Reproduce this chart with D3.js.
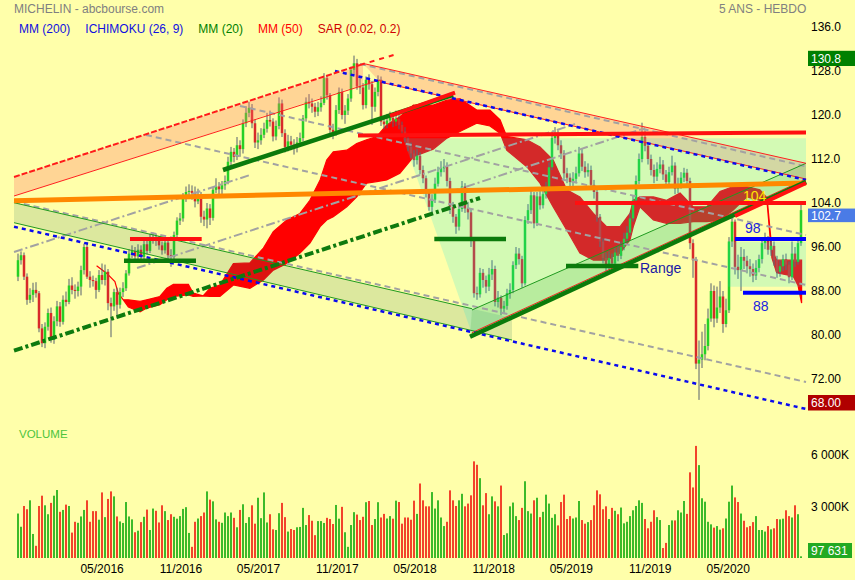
<!DOCTYPE html>
<html><head><meta charset="utf-8">
<script src="https://cdn.jsdelivr.net/npm/d3@7/dist/d3.min.js"></script>
<style>
html,body{margin:0;padding:0;background:#ffffaa;}
svg{display:block;}
</style></head><body>
<svg id="c" width="855" height="580"></svg>
<script>
// ---------------- DATA ----------------
const startDate = new Date(2015, 9, 19); // first weekly bar
const firstOpen = 90.6;
const closes = [
93.6,94.5,90.6,86.4,87.3,88.2,87.6,81.2,78.5,81.5,
84.0,79.1,82.5,85.2,82.4,86.4,86.0,89.0,88.2,88.0,
88.8,91.8,96.0,90.6,90.0,89.8,88.2,90.9,90.0,91.5,
85.8,85.2,87.8,85.5,87.8,88.5,91.2,94.8,95.3,94.3,
95.5,94.2,96.5,95.3,97.3,97.6,97.2,96.3,95.4,96.8,
94.5,94.2,98.2,100.8,101.2,105.0,106.0,106.2,105.8,104.3,
105.5,101.5,101.0,103.0,101.3,106.4,107.0,106.5,107.2,108.0,
111.5,113.3,112.4,114.5,113.8,118.5,120.4,121.3,118.5,115.0,
115.4,116.4,117.5,119.1,118.8,116.1,118.0,122.1,116.7,114.2,
115.2,114.6,114.1,115.0,115.8,119.4,122.4,122.1,121.5,120.6,
121.4,122.2,126.7,123.6,117.3,116.9,120.9,124.2,120.0,120.8,
123.0,128.2,129.4,125.2,125.0,121.8,126.4,125.6,121.5,124.2,
126.4,118.8,118.3,119.0,119.5,118.8,119.3,118.2,117.0,115.8,
114.2,113.0,111.8,112.6,110.0,108.5,105.8,103.3,104.6,107.5,
109.6,110.3,110.6,108.0,103.3,101.5,99.7,102.9,107.0,103.0,
102.3,97.3,87.6,87.4,91.3,90.0,88.8,91.0,92.0,86.0,
86.8,84.8,85.3,87.6,88.2,92.7,94.8,93.8,89.4,100.9,
102.7,105.4,100.3,105.2,103.6,105.6,106.6,110.5,115.8,116.4,
114.5,113.0,109.4,108.6,107.8,108.4,109.4,113.0,110.6,109.6,
110.0,107.3,106.0,101.5,97.0,94.0,92.5,94.0,93.0,95.0,
94.4,96.0,97.5,98.6,101.2,104.5,108.0,112.0,116.0,114.4,
112.0,110.0,108.8,110.2,111.0,109.2,107.8,109.6,110.8,106.6,
107.4,108.6,109.5,108.0,96.7,93.6,74.8,75.5,76.5,78.0,
83.0,88.0,83.0,85.0,87.0,82.0,84.5,97.0,100.6,92.4,
91.8,94.2,93.5,92.5,92.0,90.8,92.2,93.8,96.7,97.2,
95.5,96.2,93.6,91.5,92.5,93.8,92.8,90.5,94.8,93.3,
96.7,102.7];
const highs = [
94.8,95.2,95.0,91.2,88.5,89.5,89.6,88.0,82.0,82.3,
84.8,85.0,83.4,86.2,86.0,87.2,87.9,90.2,90.5,89.2,
89.7,92.6,96.6,96.9,91.6,90.8,90.4,91.8,93.0,92.8,
92.0,86.8,88.4,88.6,88.6,89.6,91.8,95.6,96.3,96.0,
96.5,96.3,97.2,97.6,98.4,98.6,98.4,98.0,97.0,97.8,
97.4,95.6,98.8,101.4,102.2,105.8,107.0,107.4,107.2,107.0,
106.6,106.0,102.6,104.0,103.8,106.9,108.5,107.8,108.0,109.0,
112.4,114.2,114.0,116.0,115.4,119.2,121.6,122.4,122.0,119.2,
116.8,117.6,118.6,120.4,120.8,119.4,119.0,123.2,122.8,117.4,
116.4,116.2,115.6,116.0,116.8,120.0,123.2,123.8,123.0,122.2,
122.4,123.4,127.6,127.2,124.0,118.4,121.8,125.0,124.8,121.8,
123.8,128.8,130.8,130.2,126.8,125.8,127.0,127.4,126.2,125.0,
127.2,127.0,119.8,120.2,120.6,120.2,120.8,120.0,118.8,117.8,
116.6,115.0,113.6,113.8,113.2,110.8,109.0,106.4,105.6,108.6,
110.6,111.6,112.0,111.4,108.6,104.2,102.0,103.8,108.0,107.6,
104.2,103.0,97.8,88.8,92.2,92.0,90.8,92.2,93.6,92.6,
88.0,87.2,86.2,88.4,89.4,93.4,96.0,95.8,94.4,101.6,
103.8,106.4,106.0,106.0,106.2,106.8,107.8,111.4,117.0,117.8,
117.2,115.4,113.6,110.4,109.4,109.6,110.6,114.2,113.8,111.6,
111.2,110.8,108.2,106.6,102.0,97.6,95.0,95.2,94.8,96.0,
96.2,97.0,98.6,99.8,102.2,105.4,109.0,113.0,118.6,117.2,
115.0,112.8,111.0,111.4,112.4,111.8,110.0,110.6,112.6,111.4,
108.6,109.6,110.4,110.2,108.6,97.4,94.2,79.0,80.6,82.0,
84.8,89.4,89.0,88.8,89.8,88.0,86.6,97.8,101.8,101.0,
94.6,96.0,95.6,94.4,93.8,93.0,93.6,94.6,97.8,98.6,
98.0,97.4,97.0,94.4,93.6,94.6,94.8,93.4,97.0,96.0,
97.6,104.0];
const lows = [
89.8,92.8,90.0,85.5,85.8,86.0,86.8,80.5,77.8,77.6,
80.8,78.6,78.4,81.6,81.5,81.9,85.2,85.6,87.4,86.6,
87.0,87.2,91.0,90.2,88.6,88.8,86.6,87.8,89.2,89.0,
84.5,79.6,84.4,83.0,84.8,86.9,88.0,90.8,94.0,93.6,
93.5,93.4,93.8,94.6,94.9,96.6,96.2,95.5,94.6,94.8,
93.8,92.4,93.8,97.6,100.0,100.6,104.2,105.0,104.6,103.2,
103.8,100.4,99.8,99.4,100.0,100.8,105.8,105.4,105.0,106.4,
107.4,110.8,111.4,111.8,112.4,113.0,117.8,119.6,117.6,114.0,
113.8,114.6,115.8,116.8,117.9,115.2,115.4,117.4,116.0,113.2,
113.4,113.6,112.8,113.2,114.2,115.2,118.8,121.2,120.4,119.6,
119.8,120.6,121.8,122.8,116.6,115.6,116.2,120.2,119.2,118.4,
120.0,122.4,127.4,124.6,123.8,121.0,121.2,124.6,118.2,120.6,
123.4,118.0,117.4,117.6,118.4,117.8,118.0,117.4,116.2,115.0,
113.4,112.2,110.6,111.0,109.2,107.6,105.0,102.6,102.2,104.0,
107.0,108.8,109.6,107.0,102.0,100.4,98.4,99.0,102.4,102.2,
101.0,96.0,86.8,86.4,86.8,88.6,87.6,88.0,90.0,85.2,
85.0,83.6,83.8,84.6,86.6,87.6,92.0,92.8,88.6,89.0,
100.2,102.0,99.4,99.8,102.8,103.0,104.8,106.0,110.0,114.8,
113.6,112.0,108.4,107.6,106.6,107.0,107.6,108.8,109.8,108.6,
108.8,106.4,104.8,100.6,96.0,93.0,91.2,91.8,92.0,92.2,
93.4,93.8,95.4,96.8,98.0,100.6,103.8,107.4,111.4,113.4,
111.0,109.0,107.6,108.0,109.4,108.2,106.8,107.0,109.0,105.6,
105.8,106.6,107.8,106.8,95.6,90.4,73.8,68.2,74.0,75.4,
77.2,82.4,81.4,82.2,84.0,80.4,81.4,84.0,96.0,91.0,
90.2,88.0,92.0,91.2,90.6,89.6,90.0,91.4,93.0,95.6,
94.6,94.4,92.6,90.4,90.6,91.6,91.8,89.4,90.0,92.4,
92.8,96.2];
// weekly volume, thousands of shares
const volumes = [
2590,1820,3030,2840,3360,1400,710,3030,3630,3070,
2550,3210,3630,3960,2690,2800,3110,3030,1480,2110,
2050,2420,2800,3360,2110,2730,2730,2230,3820,2380,
3440,3880,3590,2420,2130,2040,3260,2420,2250,1500,
1590,2090,2400,2820,1630,2880,2750,2070,3070,2730,
2210,2550,2400,2290,2440,2860,2960,1460,650,2110,
2300,2440,2650,3880,3400,3300,2250,2110,2050,2650,
2440,2650,2340,1790,2800,3130,2040,2380,3070,2000,
3510,2320,3820,2070,2550,1670,1630,2610,3210,2380,
1540,1690,1630,1790,1810,2920,1920,2500,2170,1330,
2150,2150,2040,2340,2270,1980,3090,2290,2980,1500,
650,1920,2670,2530,2210,2400,3250,3320,1920,2270,
3250,2360,2570,2300,2440,2290,3340,3260,2000,2360,
2360,2230,3340,2570,4340,3360,3010,3010,3840,2880,
3360,2360,1860,2110,3940,3360,3030,3360,3740,3010,
3170,3650,5630,5430,4650,3070,3780,2550,3590,3300,
3010,4220,1340,1440,3010,3230,2440,2210,2920,4470,
2730,2590,3360,3510,2380,2690,3690,3170,2340,2550,
1900,3260,3690,2270,2440,2300,2360,3320,2210,2000,
2090,2210,3070,3940,3710,2840,3010,2270,2920,2750,
2550,2940,2020,2110,2440,2780,3030,3360,3210,2270,
1730,2110,2780,2380,2210,580,880,1920,2190,2190,
2780,2650,3320,2570,4990,4110,6530,5410,3480,3280,
2110,1960,1770,1860,1650,1730,2300,3280,4220,3530,
3260,2590,2170,1790,1860,2090,2440,1630,1630,1540,
1860,1670,1730,2270,2250,2290,2780,2440,2360,3070,
2550,97.631];
// Ichimoku cloud edges (week index, upper span, lower span)
const cloudIdx = [26.2,29.6,32.3,33.4,35.1,36.8,40.7,42.9,47.3,49.6,51.8,56.8,58.4,61.7,64.0,67.3,71.8,77.3,81.8,85.1,89.6,94.0,97.3,100.7,102.9,105.1,109.6,112.9,116.2,119.6,122.9,127.3,131.8,138.4,143.0,147.3,152.9,157.3,160.7,162.9,169.6,174.0,178.4,182.9,187.3,191.8,196.2,200.7,204.0,205.1,207.3,211.8,216.2,220.7,225.1,229.6,234.0,238.4,242.9,247.3,249.7,251.3,252.9,258.4,260.0,261.2];
const cloudTop = [92.6,91.2,89.7,87.6,86.4,86.4,86.1,86.4,87.0,88.5,89.2,89.2,87.6,87.1,88.5,89.1,93.0,93.1,95.8,98.8,100.9,102.1,104.5,108.2,111.8,113.3,113.6,114.8,115.5,116.1,118.2,119.7,121.8,121.8,122.7,123.0,120.9,120.9,119.1,116.1,115.5,114.2,111.8,106.4,105.1,102.1,99.7,99.7,102.1,104.5,105.1,105.1,104.5,105.8,103.3,103.3,106.1,107.0,107.0,106.4,104.9,95.5,93.6,93.6,93.6,93.6];
const cloudBot = [92.6,91.2,89.7,87.6,86.4,85.1,84.2,84.9,85.5,86.4,87.0,87.3,87.0,87.1,87.0,87.0,89.1,88.5,90.0,91.8,93.0,94.9,96.7,99.7,100.9,101.5,103.3,105.1,107.6,107.9,108.2,109.4,112.4,113.8,115.8,117.0,118.5,118.0,116.7,113.6,110.6,107.6,103.3,99.1,94.9,93.6,93.6,94.9,97.3,99.7,103.3,100.9,100.3,100.3,100.6,100.6,100.9,102.7,105.1,104.5,104.0,94.0,91.3,90.7,89.0,85.8];

const priceTicks = [136,128,120,112,104,96,88,80,72];
const volumeTicks = [3000,6000];
const legendItems = ["MM (200)","ICHIMOKU (26, 9)","MM (20)","MM (50)","SAR (0.02, 0.2)"];
const priceMax = 130.8, priceMin = 68.00, lastClose = 102.7, lastVolume = 97631;

// hand-drawn analysis objects: [weekIndex1, price1, weekIndex2, price2]
const grayDashed = [[-1.33,104.24,262.67,71.45],[42.67,116.36,262.67,89.09],[74,121.64,262.67,98.18],[114,129.27,262.67,110.64]];
const grayDashDot = [[-1.33,95.09,77.33,109.09],[39.67,92.18,185.67,118.36],[144,106.0,209,117.64]];
const blueDashed = [[-1.33,99.69,262.67,66.55],[105.67,128.0,262.67,108.18]];
const redThin = [[-1.33,105.27,120.67,126.36],[115,129.38,262.67,111.22],[120.67,126.0,262.67,108.36],[151.33,80.42,262.67,108.36]];
const greenThin = [[-1.33,104.05,151.33,84.78],[-1.33,100.42,164.67,79.09],[151.33,84.55,262.67,111.22]];
const greenThick = [[68.33,110.0,145,123.64],[150.67,79.69,262.67,107.87],[35.33,93.51,59.33,93.51],[138.77,97.45,162.67,97.45],[182.67,92.55,206.77,92.55]];
const redThick = [[124,119.82,145.67,124.05],[239,101.64,262.67,107.64],[113.33,116.27,262.67,116.82],[185.67,104,262.67,104],[37.33,97.45,61.23,97.45]];
const blueThick = [[239,97.45,262.67,97.45],[241.67,87.69,262.67,87.69]];
const orangeThick = [[-1.33,104.42,262.67,107.64]];
const greenDashDot = [[-1.33,77.15,154,104.91]];
const redDashed = [[-1.33,108.73,114,129.1]];
const redDashedSparse = [[114,129.1,126.33,131.09]];
// shaded zones: polygons of [weekIndex, price]
const orangeZones = [
  [[-1.33,108.73],[115,129.09],[115,125.56],[-1.33,105.27]],
  [[115,129.38],[262.67,111.22],[262.67,108.36],[120.67,126.0]]];
const greenZone = [[-1.33,104.05],[164.67,83.09],[164.67,79.09],[-1.33,100.42]];
const lightZones = [
  [[128.33,115.76],[262.67,115.76],[262.67,107.87],[151.23,80.36]],
  [[236.67,96.96],[262.67,96.96],[262.67,88.78],[236.67,88.78]]];
const risingZone = [[151.33,84.55],[262.67,111.22],[262.67,107.87],[150.67,79.69]];
const notes = [["104",241.67,104.36],["98",242.33,98.55],["88",245,84.36],["Range",207.33,91.27]];

// ---------------- DRAW ----------------
const FONT = '"Liberation Sans", Arial, Helvetica, sans-serif';
const svg = d3.select("#c");
const n = closes.length;
const x = d3.scaleLinear().domain([0, n-1]).range([18, 801]);
const y = d3.scaleLinear().domain([68, 136]).range([401, 27]);
const yv = d3.scaleLinear().domain([0, 6000]).range([558, 455]);
const dates = closes.map((_, i) => d3.timeDay.offset(startDate, 7*i));
const xt = d3.scaleTime().domain([dates[0], dates[n-1]]).range([18, 801]);
const opens = closes.map((c, i) => i ? closes[i-1] : firstOpen);
const UP = "#26d026", DN = "#d82a2a";

svg.append("rect").attr("width",855).attr("height",580).attr("fill","#ffffaa");

// cloud
const cloudData = cloudIdx.map((v,k)=>[v, cloudTop[k], cloudBot[k]]);
svg.append("path").datum(cloudData)
  .attr("d", d3.area().x(d=>x(d[0])).y0(d=>y(d[2])).y1(d=>y(d[1])))
  .attr("fill","#ff0000").attr("stroke","#ff0000").attr("stroke-width",1.2);

// candles
const cg = svg.append("g");
cg.selectAll("line").data(closes).join("line")
  .attr("x1",(d,i)=>x(i)).attr("x2",(d,i)=>x(i))
  .attr("y1",(d,i)=>y(highs[i])).attr("y2",(d,i)=>y(lows[i]))
  .attr("stroke","#56606e").attr("stroke-width",1);
cg.selectAll("rect").data(closes).join("rect")
  .attr("x",(d,i)=>x(i)-1.25).attr("width",2.5)
  .attr("y",(d,i)=>y(Math.max(opens[i],d)))
  .attr("height",(d,i)=>Math.max(1, Math.abs(y(opens[i])-y(d))))
  .attr("fill",(d,i)=> d>=opens[i] ? UP : DN);

// zones
const poly = pts => "M" + pts.map(p => x(p[0]) + "," + y(p[1])).join("L") + "Z";
orangeZones.forEach(z => svg.append("path").attr("d",poly(z)).attr("fill","rgb(255,115,103)").attr("fill-opacity",0.3));
svg.append("path").attr("d",poly(greenZone)).attr("fill","rgb(40,110,100)").attr("fill-opacity",0.16);
lightZones.forEach(z => svg.append("path").attr("d",poly(z)).attr("fill","rgb(10,225,225)").attr("fill-opacity",0.18));
svg.append("path").attr("d",poly(risingZone)).attr("fill","rgb(60,170,60)").attr("fill-opacity",0.18);

// lines
function segs(arr, color, w, dash){
  const g = svg.append("g");
  arr.forEach(s => {
    g.append("line").attr("x1",x(s[0])).attr("y1",y(s[1])).attr("x2",x(s[2])).attr("y2",y(s[3]))
      .attr("stroke",color).attr("stroke-width",w).attr("stroke-dasharray",dash||null);
  });
}
segs(grayDashed, "#a2a2a2", 2, "6,4");
segs(grayDashDot, "#a2a2a2", 2, "9,3,2,3");
segs(greenThin, "#1f9a1f", 1);
segs(redThin, "#ff2020", 1);
segs(blueDashed, "#0a0aee", 2.5, "4,4");
segs(redDashed, "#ff1a1a", 2, "6,2");
segs(redDashedSparse, "#ff1a1a", 2, "5,5");
segs(greenDashDot, "#0e7a0e", 4, "9,3,3,3");
segs(orangeThick, "#ff8800", 5);
segs(greenThick, "#0b7a0b", 4.5);
segs(redThick, "#ff1010", 4);
segs(blueThick, "#0000ff", 4);

// notes
const noteColor = {"104":"#ffe600","98":"#1a24e0","88":"#1a24e0","Range":"#1a1aa6"};
notes.forEach(nt => svg.append("text").attr("x",x(nt[1])).attr("y",y(nt[2]))
  .attr("font-family",FONT).attr("font-size",14).attr("fill",noteColor[nt[0]]).text(nt[0]));

// volume bars
svg.append("g").selectAll("rect").data(volumes).join("rect")
  .attr("x",(d,i)=>x(i)-1).attr("width",2)
  .attr("y",d=>yv(d)).attr("height",d=>Math.max(1,558-yv(d)))
  .attr("fill",(d,i)=> closes[i]>=opens[i] ? "#3cba2a" : "#f2432b");

// axes
function styleAxis(g){ g.attr("font-family",FONT).attr("font-size",12); g.select(".domain").remove(); g.selectAll("text").attr("fill","#000"); }
svg.append("g").attr("transform","translate(808,0)")
  .call(d3.axisRight(y).tickValues(priceTicks).tickFormat(d3.format(".4r")).tickSize(0).tickPadding(3)).call(styleAxis);
svg.append("g").attr("transform","translate(808,0)")
  .call(d3.axisRight(yv).tickValues(volumeTicks).tickFormat(d=>d3.format(",")(d).replace(","," ")+"K").tickSize(0).tickPadding(3)).call(styleAxis);
const monthTicks = d3.timeMonth.range(new Date(2016,0,1), dates[n-1]).filter(d => d.getMonth()===4 || d.getMonth()===10);
svg.append("g").attr("transform","translate(0,560)")
  .call(d3.axisBottom(xt).tickValues(monthTicks).tickFormat(d3.timeFormat("%m/%Y")).tickSize(0).tickPadding(4)).call(styleAxis);

// value boxes
function box(top, h, txt, color, w){
  svg.append("rect").attr("x",808).attr("y",top).attr("width",w).attr("height",h).attr("fill",color);
  svg.append("text").attr("x",811).attr("y",top + h/2 + 4.3).attr("font-family",FONT).attr("font-size",12).attr("fill","#fff").text(txt);
}
box(y(priceMax)-4.8, 15.2, d3.format(".4r")(priceMax), "#008000", 47);
box(y(lastClose)-1.6, 13.6, d3.format(".4r")(lastClose), "#4a7be6", 47);
box(y(priceMin)-6, 15.5, d3.format(".2f")(priceMin), "#b00000", 47);
box(543, 15, d3.format(",")(lastVolume).replace(","," "), "#22aa22", 44);

// header
svg.append("text").attr("x",14).attr("y",12.5).attr("font-family",FONT).attr("font-size",12).attr("fill","#808080").text("MICHELIN - abcbourse.com");
svg.append("text").attr("x",719).attr("y",12.5).attr("font-family",FONT).attr("font-size",12).attr("fill","#808080").text("5 ANS - HEBDO");
const legColors = ["#1010e0","#1010e0","#008000","#ff0000","#d00000"];
let lx = 19;
legendItems.forEach((t,k) => {
  const el = svg.append("text").attr("x",lx).attr("y",32.5).attr("font-family",FONT).attr("font-size",12).attr("fill",legColors[k]).text(t);
  lx += el.node().getComputedTextLength() + 15;
});
svg.append("text").attr("x",19).attr("y",438).attr("font-family",FONT).attr("font-size",11.5).attr("fill","#4cc43c").text("VOLUME");
</script>
</body></html>
